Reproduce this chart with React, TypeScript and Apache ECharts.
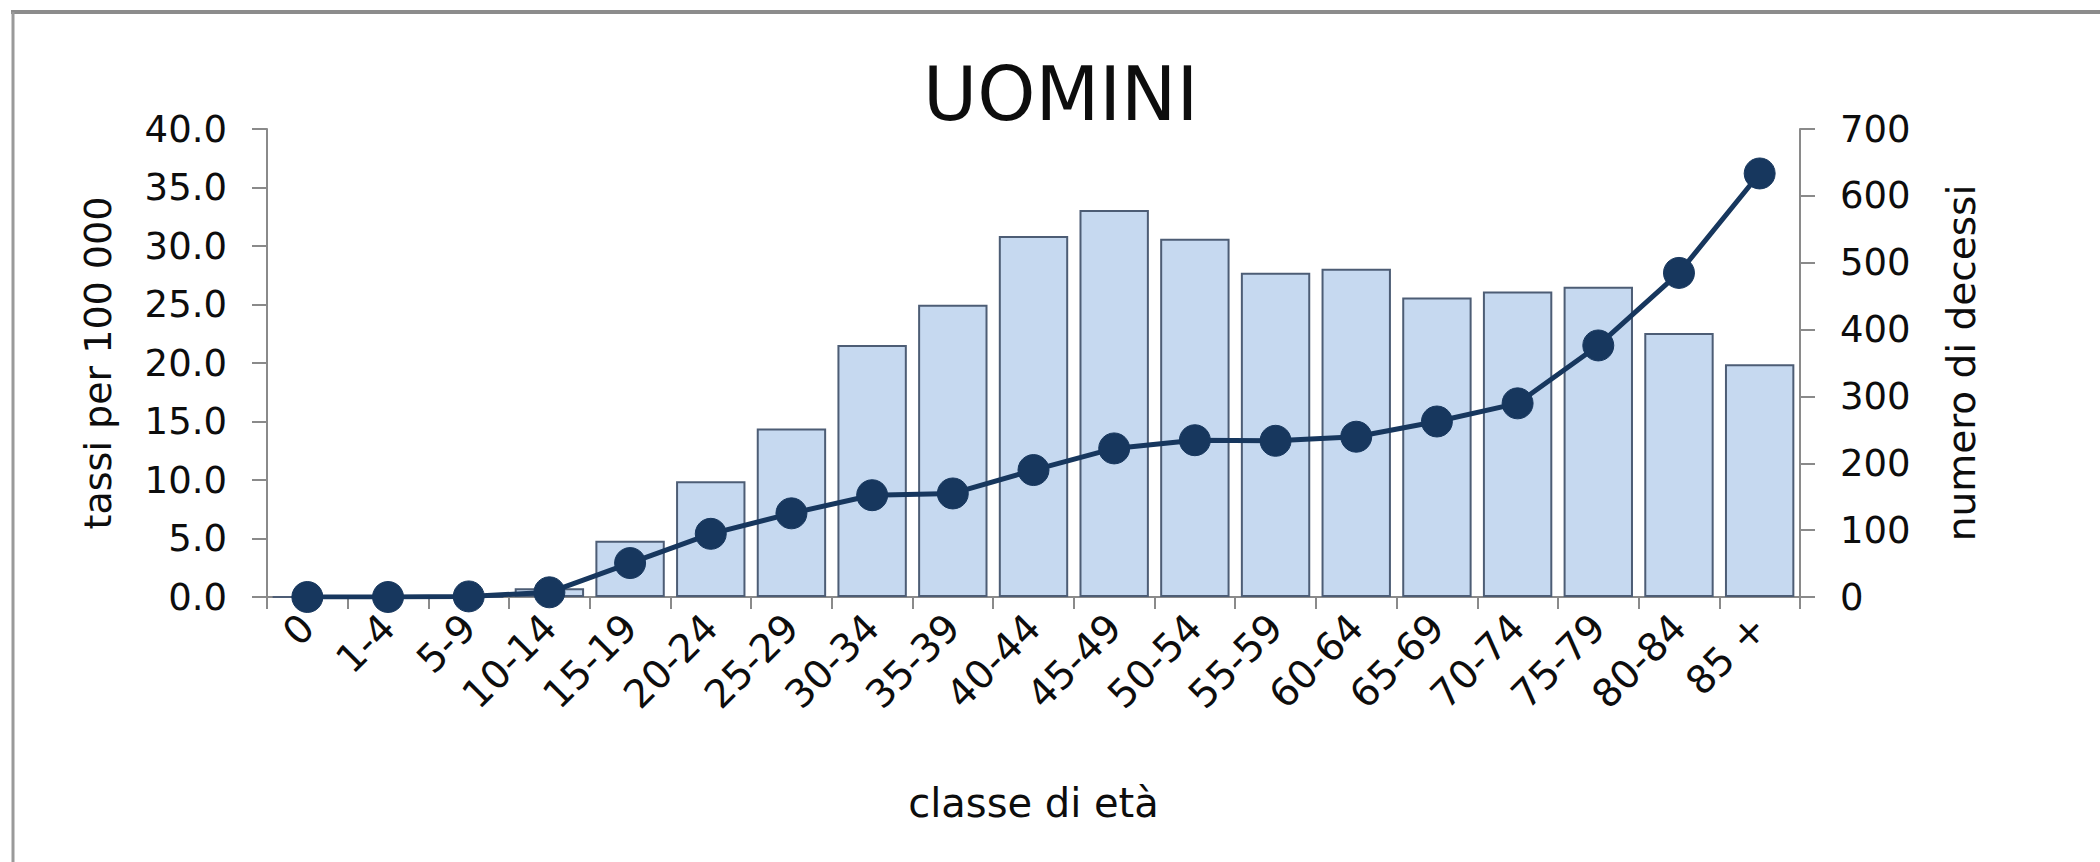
import React, { useEffect, useRef } from "react";
import * as echarts from "echarts";

const categories = ["0", "1-4", "5-9", "10-14", "15-19", "20-24", "25-29", "30-34", "35-39", "40-44", "45-49", "50-54", "55-59", "60-64", "65-69", "70-74", "75-79", "80-84", "85 +"];
// numero di decessi (bars, right axis)
const deaths = [0, 0, 0, 13, 84, 173, 252, 377, 437, 540, 579, 536, 485, 491, 448, 457, 464, 395, 348];
// tassi per 100 000 (line, left axis)
const rates = [0.0, 0.0, 0.05, 0.4, 2.9, 5.4, 7.15, 8.7, 8.85, 10.85, 12.7, 13.4, 13.35, 13.7, 15.0, 16.55, 21.5, 27.7, 36.2];

const titleText = "UOMINI";
const leftAxisName = "tassi per 100 000";
const rightAxisName = "numero di decessi";
const xAxisName = "classe di età";

const FONT = "DejaVu Sans";
const AXIS_GRAY = "#8a8a8a";
const TEXT = "#0d0d0d";

export default function App() {
  const ref = useRef<HTMLDivElement>(null);
  useEffect(() => {
    document.body.style.margin = "0";
    const chart = echarts.init(ref.current!, null, { renderer: "svg" });
    chart.setOption({
      animation: false,
      backgroundColor: "#ffffff",
      textStyle: { fontFamily: FONT, color: TEXT },
      title: {
        text: titleText,
        left: 918,
        top: 52,
        textStyle: { fontFamily: FONT, fontSize: 74, fontWeight: "normal", color: TEXT },
      },
      graphic: [
        { type: "line", shape: { x1: 11, y1: 12, x2: 2100, y2: 12 }, style: { stroke: "#8c8c8c", lineWidth: 4 } },
        { type: "line", shape: { x1: 13, y1: 12, x2: 13, y2: 862 }, style: { stroke: "#9a9a9a", lineWidth: 3 } },
      ],
      grid: { left: 267, right: 300, top: 129, bottom: 265, containLabel: false },
      xAxis: {
        type: "category",
        data: categories,
        name: xAxisName,
        nameLocation: "middle",
        nameGap: 186,
        nameTextStyle: { fontFamily: FONT, fontSize: 40, color: TEXT },
        axisLine: { show: true, lineStyle: { color: AXIS_GRAY, width: 2 } },
        axisTick: { show: true, alignWithLabel: false, length: 12, lineStyle: { color: AXIS_GRAY, width: 2 } },
        axisLabel: { rotate: 45, fontFamily: FONT, fontSize: 39, color: TEXT, margin: 24, interval: 0 },
      },
      yAxis: [
        {
          type: "value",
          min: 0,
          max: 40,
          interval: 5,
          position: "left",
          name: leftAxisName,
          nameLocation: "middle",
          nameGap: 150,
          nameTextStyle: { fontFamily: FONT, fontSize: 38, color: TEXT },
          axisLine: { show: true, lineStyle: { color: AXIS_GRAY, width: 2 } },
          axisTick: { show: true, length: 15, lineStyle: { color: AXIS_GRAY, width: 2 } },
          splitLine: { show: false },
          axisLabel: {
            fontFamily: FONT,
            fontSize: 37,
            color: TEXT,
            margin: 40,
            formatter: (v: number) => v.toFixed(1),
          },
        },
        {
          type: "value",
          min: 0,
          max: 700,
          interval: 100,
          position: "right",
          name: rightAxisName,
          nameLocation: "middle",
          nameGap: 142,
          nameTextStyle: { fontFamily: FONT, fontSize: 39, color: TEXT },
          axisLine: { show: true, lineStyle: { color: AXIS_GRAY, width: 2 } },
          axisTick: { show: true, length: 15, lineStyle: { color: AXIS_GRAY, width: 2 } },
          splitLine: { show: false },
          axisLabel: { fontFamily: FONT, fontSize: 37, color: TEXT, margin: 40 },
        },
      ],
      series: [
        {
          type: "bar",
          name: rightAxisName,
          yAxisIndex: 1,
          data: deaths,
          barCategoryGap: "14%",
          itemStyle: { color: "#c6d9f0", borderColor: "#4d5d75", borderWidth: 2 },
          z: 2,
        },
        {
          type: "line",
          name: leftAxisName,
          yAxisIndex: 0,
          data: rates,
          symbol: "circle",
          symbolSize: 31,
          lineStyle: { color: "#17375e", width: 5 },
          itemStyle: { color: "#17375e", borderColor: "#17375e", borderWidth: 1 },
          z: 5,
        },
      ],
    });
    return () => chart.dispose();
  }, []);
  return <div ref={ref} style={{ position: "absolute", left: 0, top: 0, width: 2100, height: 862 }} />;
}
